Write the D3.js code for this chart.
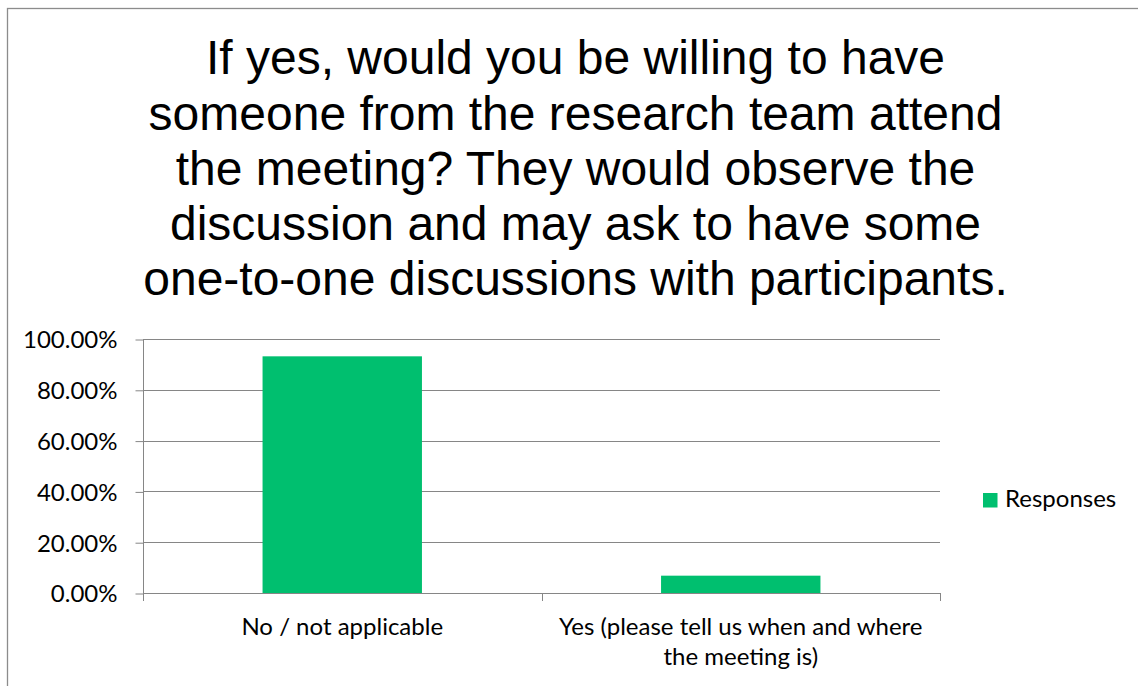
<!DOCTYPE html>
<html>
<head>
<meta charset="utf-8">
<script src="https://cdn.jsdelivr.net/npm/d3@7"></script>
<style>
  html, body { margin: 0; padding: 0; background: #fff; overflow: hidden; }
  svg { display: block; }
</style>
</head>
<body>
<svg id="chart" width="1138" height="686"></svg>
<script>
// ---- data ----
const titleLines = [
  "If yes, would you be willing to have",
  "someone from the research team attend",
  "the meeting? They would observe the",
  "discussion and may ask to have some",
  "one-to-one discussions with participants."
];
const categories = [
  ["No / not applicable"],
  ["Yes (please tell us when and where", "the meeting is)"]
];
const seriesName = "Responses";
const values = [0.9318, 0.0682];
const yTicks = [0, 0.2, 0.4, 0.6, 0.8, 1.0];

// ---- layout ----
const svg = d3.select("#chart");
const W = 1138, H = 686;
const plot = { left: 143, right: 940, top: 339, bottom: 593 };
const gray = "#868686";
const green = "#00BF6F";
const labelFont = "Lato, 'Open Sans', sans-serif";
const labelSize = 24;

svg.append("rect").attr("width", W).attr("height", H).attr("fill", "#fff");
// outer chart frame (extends past the window on right/bottom)
svg.append("rect")
  .attr("x", 7.5).attr("y", 8.5)
  .attr("width", 1300).attr("height", 900)
  .attr("fill", "none").attr("stroke", "#8c8c8c").attr("stroke-width", 1.3);

// title
const title = svg.append("text")
  .attr("text-anchor", "middle")
  .attr("font-family", "'Liberation Sans', Arial, sans-serif")
  .attr("font-size", 48)
  .attr("fill", "#000");
titleLines.forEach((t, i) => {
  title.append("tspan").attr("x", 575.5).attr("y", 74.3 + i * 55.2).text(t);
});

const x = d3.scaleBand()
  .domain(categories.map((c, i) => i))
  .range([plot.left, plot.right])
  .paddingInner(0.6).paddingOuter(0.3);
const step = (plot.right - plot.left) / categories.length;

const y = d3.scaleLinear().domain([0, 1]).range([plot.bottom, plot.top]);

// gridlines
svg.append("g").selectAll("line").data(yTicks.filter(d => d > 0)).join("line")
  .attr("x1", plot.left).attr("x2", plot.right)
  .attr("y1", d => Math.round(y(d)) + 0.5).attr("y2", d => Math.round(y(d)) + 0.5)
  .attr("stroke", gray).attr("stroke-width", 1);

// y axis
const yAxis = d3.axisLeft(y).tickValues(yTicks).tickFormat(d3.format(".2%"))
  .tickSize(8).tickPadding(18);
const gy = svg.append("g").attr("transform", `translate(${plot.left + 0.5},0.5)`).call(yAxis);
gy.select(".domain").remove();
gy.selectAll(".tick line").attr("stroke", gray);
gy.selectAll(".tick text")
  .attr("font-family", labelFont).attr("font-size", labelSize).attr("fill", "#000")
  .attr("dy", "0.35em");

// y axis line (continues down to the category tick length)
svg.append("line")
  .attr("x1", plot.left + 0.5).attr("x2", plot.left + 0.5)
  .attr("y1", plot.top).attr("y2", plot.bottom + 8)
  .attr("stroke", gray);

// bars
svg.append("g").selectAll("rect").data(values).join("rect")
  .attr("x", (d, i) => x(i))
  .attr("width", x.bandwidth())
  .attr("y", d => y(d))
  .attr("height", d => y(0) - y(d))
  .attr("fill", green);

// x axis line
svg.append("line")
  .attr("x1", plot.left).attr("x2", plot.right + 0.5)
  .attr("y1", plot.bottom + 0.5).attr("y2", plot.bottom + 0.5)
  .attr("stroke", gray);
// category ticks
const tickXs = d3.range(categories.length + 1).map(i => plot.left + i * step);
svg.append("g").selectAll("line").data(tickXs).join("line")
  .attr("x1", d => Math.round(d) + 0.5).attr("x2", d => Math.round(d) + 0.5)
  .attr("y1", plot.bottom).attr("y2", plot.bottom + 8)
  .attr("stroke", gray);

// category labels
const cl = svg.append("g").selectAll("text").data(categories).join("text")
  .attr("text-anchor", "middle")
  .attr("font-family", labelFont).attr("font-size", labelSize).attr("fill", "#000");
cl.each(function(lines, i) {
  const cx = x(i) + x.bandwidth() / 2;
  lines.forEach((ln, j) => {
    d3.select(this).append("tspan").attr("x", cx).attr("y", 635 + j * 30).text(ln);
  });
});

// legend
const lg = svg.append("g");
lg.append("rect").attr("x", 983).attr("y", 493).attr("width", 14.5).attr("height", 14.5).attr("fill", green);
lg.append("text").attr("x", 1005).attr("y", 507)
  .attr("font-family", labelFont).attr("font-size", labelSize).attr("fill", "#000")
  .text(seriesName);
</script>
</body>
</html>
